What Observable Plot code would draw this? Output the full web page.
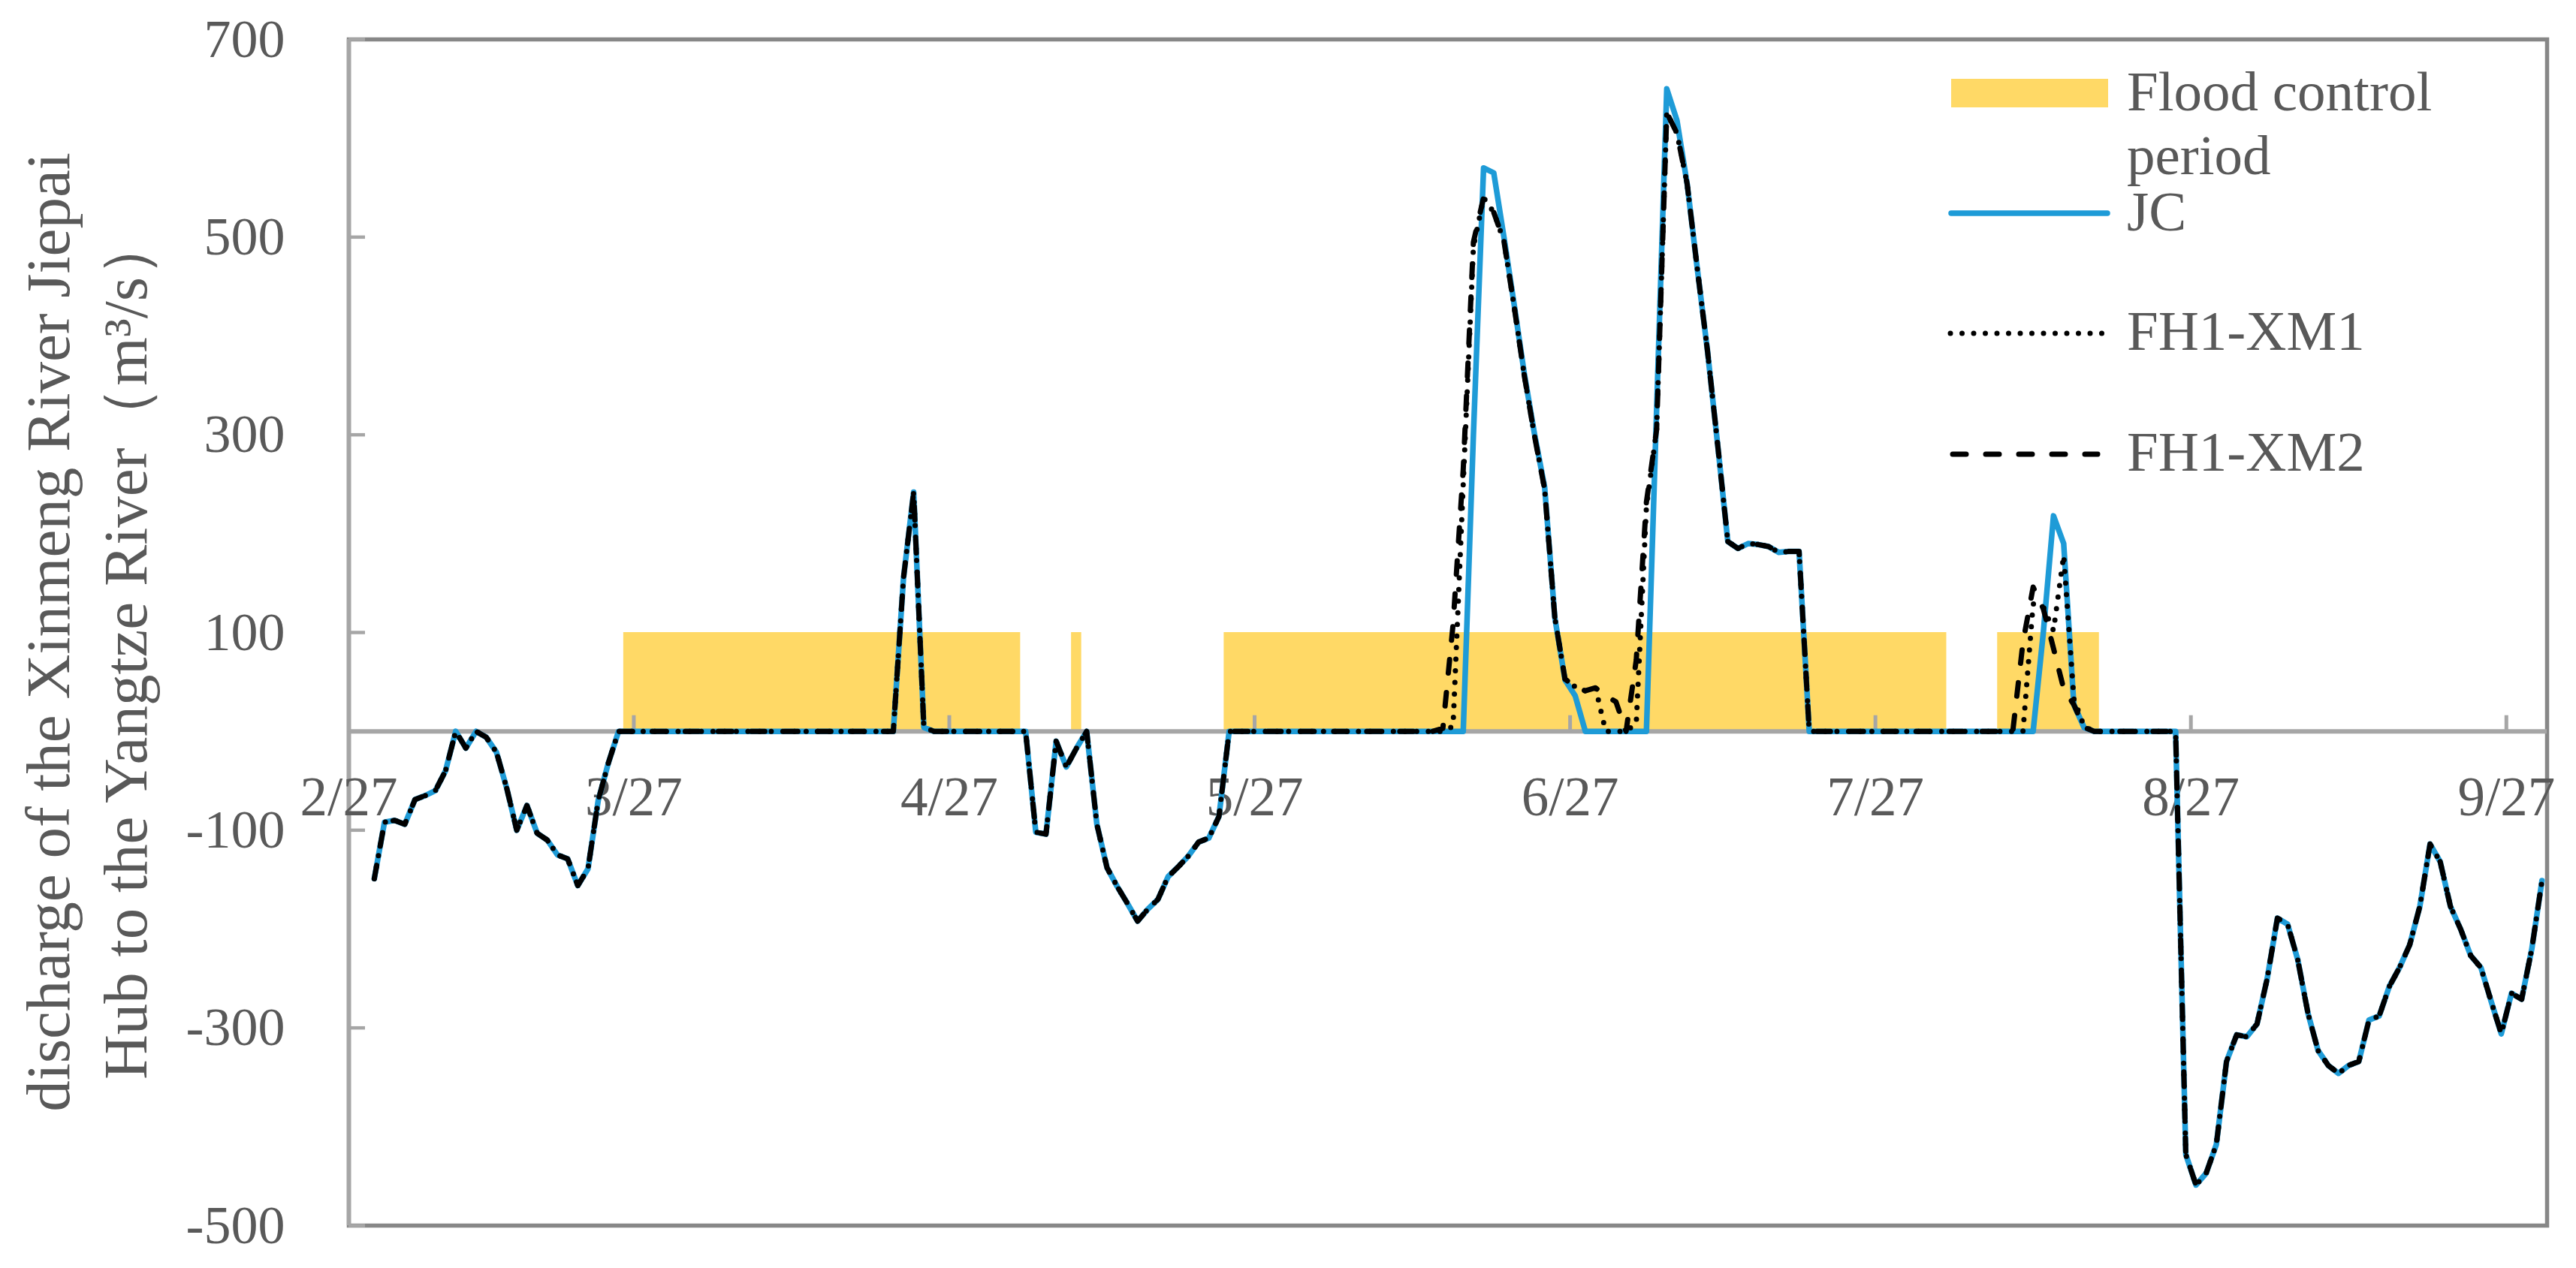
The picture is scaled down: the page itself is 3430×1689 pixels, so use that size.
<!DOCTYPE html>
<html>
<head>
<meta charset="utf-8">
<script src="https://cdn.jsdelivr.net/npm/d3@7"></script>
<script src="https://cdn.jsdelivr.net/npm/@observablehq/plot@0.6"></script>
<style>
  html, body { margin: 0; padding: 0; background: #fff; }
  #chart { width: 3430px; height: 1689px; }
</style>
</head>
<body>
<div id="chart"></div>
<script>
// ---------------- DATA (daily values, 2019-03-01 .. 2019-09-30) ----------------
const firstDate = "2019-03-01";

const jc = [
  // Mar 1 – Mar 25
  -149,-92,-90,-94,-69,-65,-60,-40,0,-17, 0,-6,-21,-57,-100,-75,-103,-110,-125,-129, -156,-139,-70,-32,0,
  // Mar 26 – Apr 21
  0,0,0,0,0,0,0,0,0,0, 0,0,0,0,0,0,0,0,0,0, 0,0,0,0,0,0,0,
  // Apr 22 – May 4
  155,242,4, 0,0,0,0,0,0,0,0,0,0,
  // May 5 – May 24
  -102,-104,-10,-36,-17,0,-94,-138,-157,-174, -192,-180,-170,-147,-137,-126,-112,-108,-86,0,
  // May 25 – Jun 15
  0,0,0,0,0,0,0,0,0,0, 0,0,0,0,0,0,0,0,0,0, 0,0,
  // Jun 16 – Jul 19
  0,300,570,565,500,432,362,301,247,115, 52,36,0,0,0,0,0,0,0,325, 650,618,554,468,385,290,192,185,190,189, 187,181,182,182,
  // Jul 20 – Aug 7
  0,0,0,0,0,0,0,0,0,0, 0,0,0,0,0,0,0,0,0,
  // Aug 8 – Aug 25
  0,0,0,0,100,218,190,27,4,0, 0,0,0,0,0,0,0,0,
  // Aug 26 – Sep 30
  -428,-459,-447,-418,-334,-307,-309,-296,-250,-189, -195,-231,-285,-323,-338,-346,-338,-334,-292,-288,
  -258,-239,-216,-177,-114,-132,-177,-200,-227,-239, -273,-306,-265,-271,-220,-151
];

const xm1 = [
  // Mar 1 – Mar 25
  -149,-92,-90,-94,-69,-65,-60,-40,0,-17, 0,-6,-21,-57,-100,-75,-103,-110,-125,-129, -156,-139,-70,-32,0,
  // Mar 26 – Apr 21
  0,0,0,0,0,0,0,0,0,0, 0,0,0,0,0,0,0,0,0,0, 0,0,0,0,0,0,0,
  // Apr 22 – May 4
  155,242,4, 0,0,0,0,0,0,0,0,0,0,
  // May 5 – May 24
  -102,-104,-10,-36,-17,0,-94,-138,-157,-174, -192,-180,-170,-147,-137,-126,-112,-108,-86,0,
  // May 25 – Jun 15
  0,0,0,0,0,0,0,0,0,0, 0,0,0,0,0,0,0,0,0,0, 0,5,
  // Jun 16 – Jul 19
  250,490,540,525,496,430,360,299,245,115, 53,45,41,44,0,0,0,8,227,305, 626,605,554,468,385,290,192,185,190,189, 187,181,182,182,
  // Jul 20 – Aug 7
  0,0,0,0,0,0,0,0,0,0, 0,0,0,0,0,0,0,0,0,
  // Aug 8 – Aug 25
  0,0,0,129,126,102,178,33,5,0, 0,0,0,0,0,0,0,0,
  // Aug 26 – Sep 30
  -428,-459,-447,-418,-334,-307,-309,-296,-250,-189, -195,-231,-285,-323,-338,-346,-338,-334,-292,-288,
  -258,-239,-216,-177,-114,-132,-177,-200,-227,-239, -273,-306,-265,-271,-220,-151
];

const xm2 = [
  // Mar 1 – Mar 25
  -149,-92,-90,-94,-69,-65,-60,-40,0,-17, 0,-6,-21,-57,-100,-75,-103,-110,-125,-129, -156,-139,-70,-32,0,
  // Mar 26 – Apr 21
  0,0,0,0,0,0,0,0,0,0, 0,0,0,0,0,0,0,0,0,0, 0,0,0,0,0,0,0,
  // Apr 22 – May 4
  155,242,4, 0,0,0,0,0,0,0,0,0,0,
  // May 5 – May 24
  -102,-104,-10,-36,-17,0,-94,-138,-157,-174, -192,-180,-170,-147,-137,-126,-112,-108,-86,0,
  // May 25 – Jun 15
  0,0,0,0,0,0,0,0,0,0, 0,0,0,0,0,0,0,0,0,0, 3,108,
  // Jun 16 – Jul 19
  265,495,540,525,496,430,360,299,245,115, 53,45,41,44,36,30,0,72,232,305, 626,605,554,468,385,290,192,185,190,189, 187,181,182,182,
  // Jul 20 – Aug 7
  0,0,0,0,0,0,0,0,0,0, 0,0,0,0,0,0,0,0,0,
  // Aug 8 – Aug 25
  0,0,90,146,124,84,43,27,4,0, 0,0,0,0,0,0,0,0,
  // Aug 26 – Sep 30
  -428,-459,-447,-418,-334,-307,-309,-296,-250,-189, -195,-231,-285,-323,-338,-346,-338,-334,-292,-288,
  -258,-239,-216,-177,-114,-132,-177,-200,-227,-239, -273,-306,-265,-271,-220,-151
];

// flood control periods (inclusive days) and bar height
const floodStart = ["2019-03-26", "2019-05-09", "2019-05-24", "2019-08-08"];
const floodEnd   = ["2019-05-03", "2019-05-09", "2019-08-02", "2019-08-17"];
const floodLevel = 100;

const xTickLabels = ["2/27", "3/27", "4/27", "5/27", "6/27", "7/27", "8/27", "9/27"];
const yTicks = [-500, -300, -100, 100, 300, 500, 700];
const xDomainDates = ["2019-02-27", "2019-10-01"];
const yDomain = [-500, 700];

const seriesNames = ["JC", "FH1-XM1", "FH1-XM2"];
const floodLabel = ["Flood control", "period"];
const yTitle = ["discharge of the Xinmeng River Jiepai", "Hub to the Yangtze River（m³/s）"];

// ---------------- BUILD ----------------
const W = 3430, H = 1689;
const mL = 464, mR = 39, mT = 52, mB = 57;
const BLUE = "#1E9BD7", YELLOW = "#FFD966", AXIS = "#A6A6A6", FRAME = "#878787", TEXT = "#595959";
const FONT = "'Liberation Serif', 'Times New Roman', serif";
const LW_BLUE = 7.5, LW_BLACK = 7;

const t0 = new Date(firstDate);
const rows = jc.map((v, i) => ({
  date: d3.utcHour.offset(d3.utcDay.offset(t0, i), 12),
  jc: v, xm1: xm1[i], xm2: xm2[i]
}));
const floods = floodStart.map((s, i) => ({
  start: new Date(s),
  end: d3.utcDay.offset(new Date(floodEnd[i]), 1),
  lo: 0, hi: floodLevel
}));
const tickDates = xTickLabels.map(s => {
  const [m, d] = s.split("/").map(Number);
  return new Date(Date.UTC(2019, m - 1, d));
});
const xDomain = xDomainDates.map(s => new Date(s));

// pixel offset from the top of the frame to y = 0 (to place the x-axis ticks on the zero line)
const yPix = d3.scaleLinear(yDomain, [H - mB, mT]);
const zeroDy = yPix(0) - mT;

const chart = Plot.plot({
  width: W, height: H,
  marginLeft: mL, marginRight: mR, marginTop: mT, marginBottom: mB,
  style: { background: "#fff", fontFamily: FONT },
  x: { type: "utc", domain: xDomain, axis: null, label: null },
  y: { domain: yDomain, axis: null, label: null },
  marks: [
    Plot.rect(floods, { x1: "start", x2: "end", y1: "lo", y2: "hi", fill: YELLOW }),
    Plot.frame({ stroke: FRAME, strokeWidth: 5.5 }),
    Plot.ruleX([xDomain[0]], { stroke: AXIS, strokeWidth: 5.5 }),
    Plot.axisY(yTicks, { anchor: "left", tickSize: 22, dx: 22, tickFormat: () => "", label: null, stroke: AXIS, strokeWidth: 4.5 }),
    Plot.ruleY([0], { stroke: AXIS, strokeWidth: 6 }),
    Plot.axisX(tickDates, { anchor: "top", tickSize: 22, dy: zeroDy, tickFormat: () => "", label: null, stroke: AXIS, strokeWidth: 5 }),
    Plot.text(tickDates, { x: d => d, y: () => 0, text: (d, i) => xTickLabels[i], dy: 60, lineAnchor: "top",
      fontSize: 73, fill: TEXT, fontFamily: FONT }),
    Plot.text(yTicks, { y: d => d, frameAnchor: "left", dx: -85, textAnchor: "end", text: d => String(d),
      fontSize: 72, fill: TEXT, fontFamily: FONT }),
    Plot.line(rows, { x: "date", y: "jc", stroke: BLUE, strokeWidth: LW_BLUE, strokeLinejoin: "round", strokeLinecap: "round" }),
    Plot.line(rows, { x: "date", y: "xm1", stroke: "#000", strokeWidth: LW_BLACK, strokeDasharray: "0,15.5", strokeLinecap: "round", strokeLinejoin: "round" }),
    Plot.line(rows, { x: "date", y: "xm2", stroke: "#000", strokeWidth: LW_BLACK, strokeDasharray: "18,26", strokeLinecap: "round", strokeLinejoin: "round" })
  ]
});

document.getElementById("chart").appendChild(chart);

// ---------------- axis title & legend ----------------
const svg = d3.select(chart);
const titleG = svg.append("g").attr("fill", TEXT).attr("font-family", FONT).attr("font-size", 83).attr("text-anchor", "middle");
titleG.append("text").attr("transform", "translate(92,842) rotate(-90)").text(yTitle[0]);
titleG.append("text").attr("transform", "translate(195,862) rotate(-90)").text(yTitle[1]);

const lg = svg.append("g").attr("font-family", FONT).attr("font-size", 75).attr("fill", TEXT).attr("text-anchor", "start");
lg.append("rect").attr("x", 2598).attr("y", 105).attr("width", 209).attr("height", 38).attr("fill", YELLOW);
lg.append("text").attr("x", 2832).attr("y", 147).text(floodLabel[0]);
lg.append("text").attr("x", 2832).attr("y", 232).text(floodLabel[1]);
lg.append("line").attr("x1", 2598).attr("x2", 2806).attr("y1", 284).attr("y2", 284)
  .attr("stroke", BLUE).attr("stroke-width", LW_BLUE).attr("stroke-linecap", "round");
lg.append("text").attr("x", 2832).attr("y", 307).text(seriesNames[0]);
lg.append("line").attr("x1", 2597).attr("x2", 2800).attr("y1", 444).attr("y2", 444)
  .attr("stroke", "#000").attr("stroke-width", LW_BLACK).attr("stroke-dasharray", "0,15.5").attr("stroke-linecap", "round");
lg.append("text").attr("x", 2832).attr("y", 466).text(seriesNames[1]);
lg.append("line").attr("x1", 2600).attr("x2", 2793).attr("y1", 605).attr("y2", 605)
  .attr("stroke", "#000").attr("stroke-width", LW_BLACK).attr("stroke-dasharray", "18,26").attr("stroke-linecap", "round");
lg.append("text").attr("x", 2832).attr("y", 627).text(seriesNames[2]);
</script>
</body>
</html>
